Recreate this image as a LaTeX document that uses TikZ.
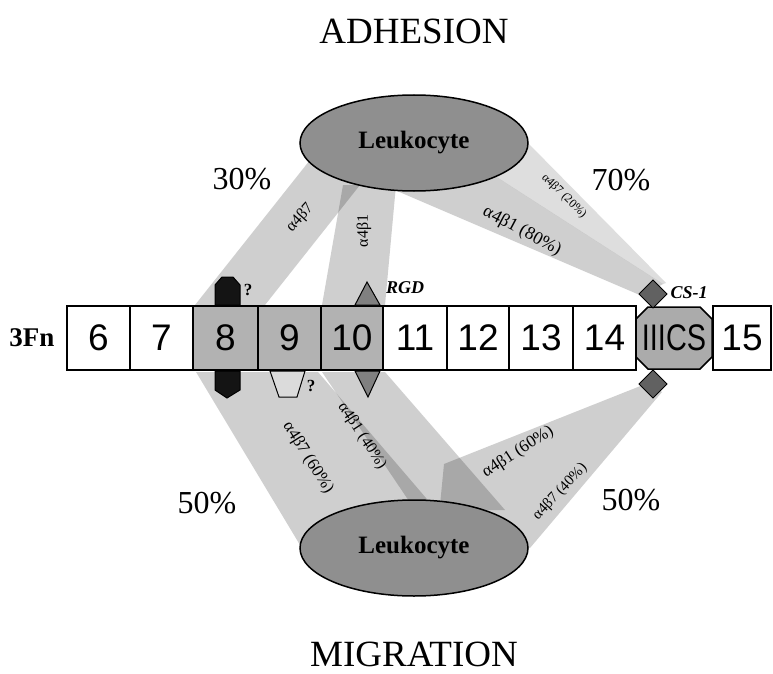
\documentclass[tikz,border=0pt]{standalone}
\usepackage{fontspec}
\usepackage{graphicx}
\setmainfont{Liberation Serif}
\newfontfamily\arialfont{Liberation Sans}
\usetikzlibrary{shapes.geometric}

\begin{document}
\begin{tikzpicture}[x=1pt,y=-1pt,
  band/.style={fill=black,fill opacity=0.19,draw=none},
  bandlt/.style={fill=black,fill opacity=0.13,draw=none},
  dom/.style={draw=black,line width=1.6pt,fill=white,minimum height=64pt,
    inner sep=0pt,outer sep=0pt,font=\arialfont\fontsize{37}{37}\selectfont},
  domgray/.style={dom,fill=black!30},
  cell/.style={draw=black,line width=1.5pt,fill=black!44,ellipse,
    minimum width=228pt,minimum height=96pt,inner sep=0pt},
  cellname/.style={font=\bfseries\fontsize{25}{25}\selectfont},
  title/.style={font=\fontsize{37}{37}\selectfont,anchor=base},
  pct/.style={font=\fontsize{32}{32}\selectfont},
  lab/.style={font=\fontsize{#1}{#1}\selectfont,inner sep=0pt},
  site/.style={font=\bfseries\itshape\fontsize{18}{18}\selectfont,inner sep=0pt},
  qmark/.style={font=\bfseries\fontsize{17}{17}\selectfont,inner sep=0pt}
]
\useasboundingbox (0,0) rectangle (773,674);

% ---- integrin binding bands (drawn underneath everything) ----
% adhesion side
\fill[band] (195,305) -- (265,305) -- (360,185) -- (310,160) -- cycle;
\fill[band] (322,305) -- (385,305) -- (396,185) -- (343,185) -- cycle;
\fill[band] (390,188) -- (495,176) -- (663,284) -- (642,296) -- cycle;
\fill[bandlt] (495,176) -- (527,142) -- (666,283) -- (663,284) -- cycle;
% migration side
\fill[band] (196,372) -- (318,372) -- (432,505) -- (300,545) -- cycle;
\fill[band] (322,372) -- (385,372) -- (505,510) -- (415,510) -- cycle;
\fill[band] (648,383) -- (662,392) -- (530,548) -- (440,505) -- (444,464) -- cycle;

% ---- fibronectin type III repeats ----
\node[dom,minimum width=63pt] (d6)  at (98.5,338) {6};
\node[dom,minimum width=63pt] (d7)  at (161.5,338) {7};
\node[domgray,minimum width=65pt] (d8)  at (225.5,338) {8};
\node[domgray,minimum width=63pt] (d9)  at (289.5,338) {9};
\node[domgray,minimum width=62pt] (d10) at (352,338) {10};
\node[dom,minimum width=64pt] (d11) at (415,338) {11};
\node[dom,minimum width=62pt] (d12) at (478,338) {12};
\node[dom,minimum width=64pt] (d13) at (541,338) {13};
\node[dom,minimum width=63pt] (d14) at (604.5,338) {14};
\node[dom,minimum width=58pt] (d15) at (742,338) {15};

% IIICS insert (octagon)
\filldraw[fill=black!33,draw=black,line width=1.5pt]
  (648,307) -- (700,307) -- (712,319) -- (712,357) -- (700,369)
  -- (648,369) -- (636,357) -- (636,319) -- cycle;
\node[font=\arialfont\fontsize{37}{37}\selectfont,inner sep=0pt] (iiics) at (674,338)
  {\scalebox{0.78}[1]{IIICS}};

% CS-1 sites
\filldraw[fill=black!62,draw=black,line width=1pt]
  (653,280) -- (667,294) -- (653,308) -- (639,294) -- cycle;
\filldraw[fill=black!62,draw=black,line width=1pt]
  (653,370) -- (667,384) -- (653,398) -- (639,384) -- cycle;
\node[site] (cs1) at (689,293) {CS-1};

% RGD site on repeat 10
\filldraw[fill=black!50,draw=black,line width=1pt]
  (355,305) -- (367,282) -- (380,305) -- cycle;
\filldraw[fill=black!50,draw=black,line width=1pt]
  (355,371) -- (368,397) -- (380,371) -- cycle;
\node[site] (rgd) at (405,288) {RGD};

% putative site on repeat 8
\filldraw[fill=black!92,draw=black,line width=1pt]
  (215,305) -- (215,285) -- (222,277) -- (233,277) -- (240,285) -- (240,305) -- cycle;
\filldraw[fill=black!92,draw=black,line width=1pt]
  (215,371) -- (215,390) -- (227,398) -- (240,390) -- (240,371) -- cycle;
\node[qmark] (q8) at (248,290) {?};

% putative site on repeat 9
\filldraw[fill=black!14,draw=black,line width=1pt]
  (270,371) -- (305,371) -- (297,397) -- (279,397) -- cycle;
\node[qmark] (q9) at (311,386) {?};

\node[font=\bfseries\fontsize{27}{27}\selectfont] (fn) at (32,338) {3Fn};

% ---- leukocytes ----
\node[cell] (leuA) at (414,143) {};
\node[cellname] at (leuA) {Leukocyte};
\node[cell] (leuB) at (414,548) {};
\node[cellname] at (leuB) {Leukocyte};

% ---- titles and percentages ----
\node[title] (adh) at (414,44) {ADHESION};
\node[title] (mig) at (414,666) {MIGRATION};
\node[pct] (p30) at (242,179) {30\%};
\node[pct] (p70) at (621,180) {70\%};
\node[pct] (p50a) at (207,503) {50\%};
\node[pct] (p50b) at (631,500) {50\%};

% ---- integrin labels ----
\node[lab=16,rotate=48]  (l1) at (300,218) {α4β7};
\node[lab=16,rotate=90]  (l2) at (364,231) {α4β1};
\node[lab=12,rotate=-44] (l3) at (564,196) {α4β7 (20\%)};
\node[lab=18,rotate=-28] (l4) at (522,231) {α4β1 (80\%)};
\node[lab=17,rotate=-58] (l5) at (308,458) {α4β7 (60\%)};
\node[lab=16,rotate=-57] (l6) at (362,436) {α4β1 (40\%)};
\node[lab=17,rotate=33]  (l7) at (518,452) {α4β1 (60\%)};
\node[lab=15,rotate=47]  (l8) at (560,492) {α4β7 (40\%)};
\end{tikzpicture}
\end{document}
